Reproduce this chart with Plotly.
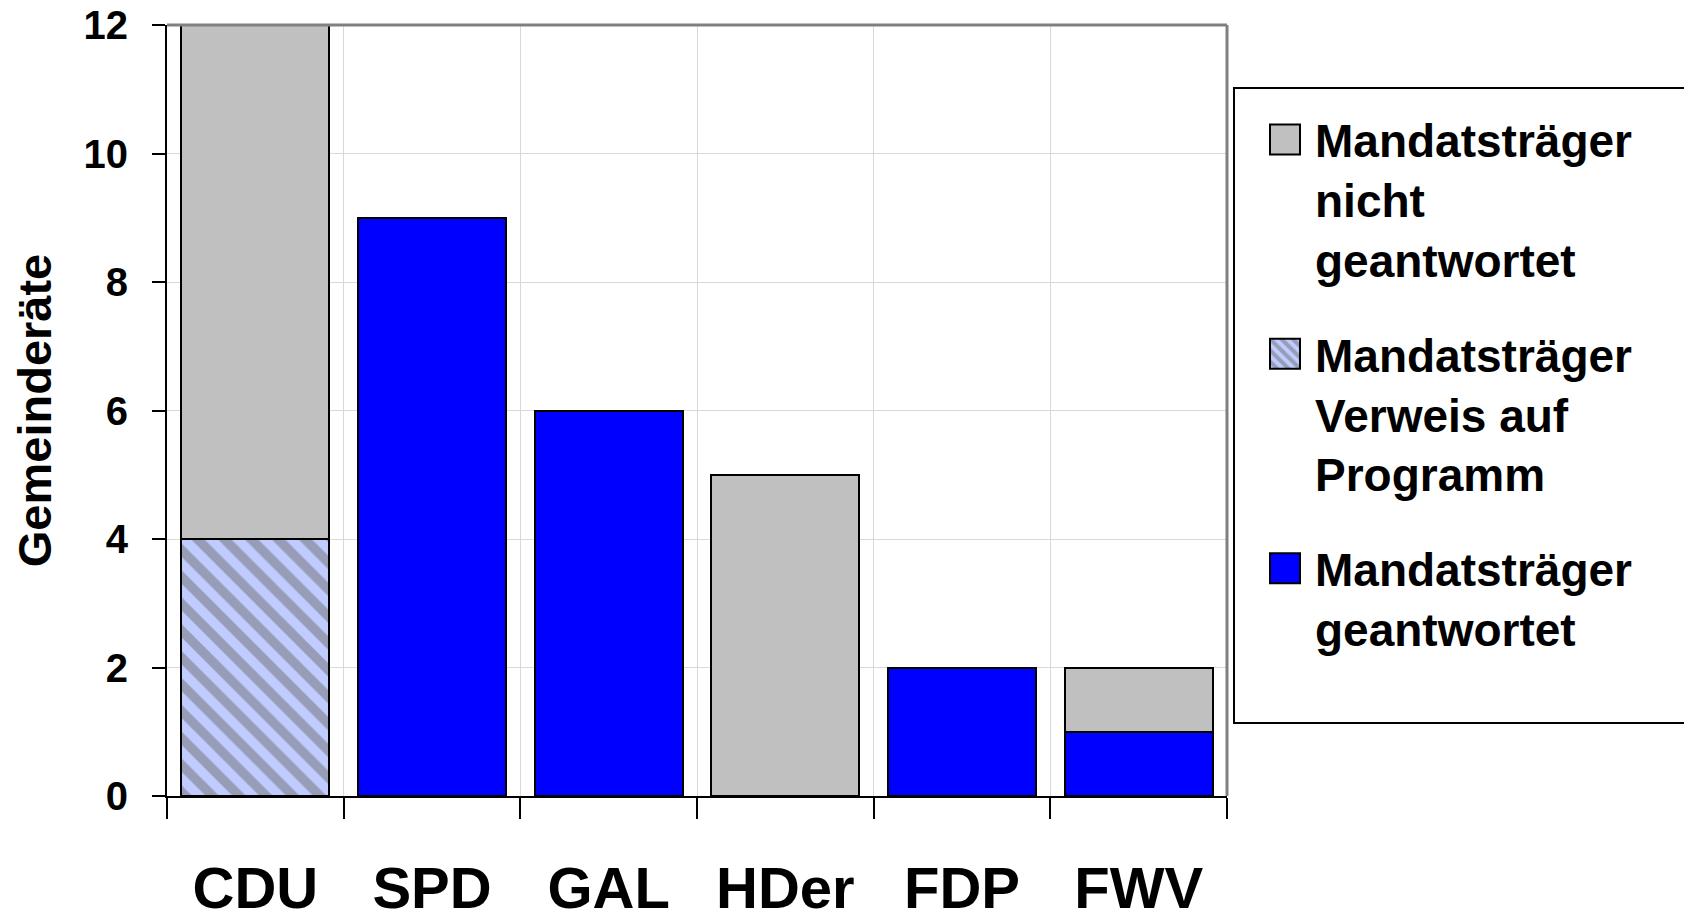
import plotly.graph_objects as go

categories = ["CDU", "SPD", "GAL", "HDer", "FDP", "FWV"]
geantwortet = [None, 9, 6, None, 2, 1]
verweis = [4, None, None, None, None, None]
nicht_geantwortet = [8, None, None, 5, None, 1]
y_ticks = [0, 2, 4, 6, 8, 10, 12]

name_nicht = "Mandatsträger<br>nicht<br>geantwortet"
name_verweis = "Mandatsträger<br>Verweis auf<br>Programm"
name_geantw = "Mandatsträger<br>geantwortet"

# page body has an 8px margin; reference coordinates below are page pixels
OFF = 8
W, H = 1692 - OFF, 912 - OFF
L, R, T, B = 167, 1227, 25, 796   # plot area in reference pixels

def px(x):
    return (x - L) / (R - L)

def py(y):
    return (B - y) / (B - T)

FONT = "Liberation Sans, Arial, sans-serif"
outline = dict(color="black", width=2)

fig = go.Figure()
fig.add_trace(go.Bar(
    x=categories, y=geantwortet, name=name_geantw, legendgroup="c", legendrank=3,
    marker=dict(color="#0000ff", line=outline),
))
fig.add_trace(go.Bar(
    x=categories, y=verweis, name=name_verweis, legendgroup="b", legendrank=2,
    marker=dict(color="#c0ccff", line=outline,
                pattern=dict(shape="\\", fgcolor="#6e6e6e", bgcolor="#c0ccff",
                             size=19, solidity=0.5, fillmode="overlay")),
))
fig.add_trace(go.Bar(
    x=categories, y=nicht_geantwortet, name=name_nicht, legendgroup="a", legendrank=1,
    marker=dict(color="#c0c0c0", line=outline),
))

fig.update_layout(
    width=W, height=H,
    margin=dict(l=L - OFF, r=W - (R - OFF), t=T - OFF, b=H - (B - OFF), autoexpand=False),
    barmode="stack", bargap=0.163,
    paper_bgcolor="white", plot_bgcolor="white",
    font=dict(family=FONT, color="black", size=40, weight="bold"),
    showlegend=True,
    legend=dict(
        x=px(1255), y=py(103), xanchor="left", yanchor="top",
        traceorder="grouped", tracegroupgap=32, valign="top",
        itemwidth=50, font=dict(size=46, family=FONT, weight="bold"),
        bgcolor="rgba(0,0,0,0)", borderwidth=0,
    ),
    xaxis=dict(
        type="category", tickson="boundaries", ticks="outside", ticklen=21,
        tickwidth=2, tickcolor="black", showline=True, linecolor="black",
        linewidth=2, showgrid=True, gridcolor="#d9d9d9", gridwidth=1,
        tickfont=dict(size=58, family=FONT, weight="bold"),
        ticklabelstandoff=40, automargin=False, ticklabeloverflow="allow",
    ),
    yaxis=dict(
        range=[0, 12], tickvals=y_ticks, ticks="outside", ticklen=13,
        tickwidth=2, tickcolor="black", showline=True, linecolor="black",
        linewidth=2, showgrid=True, gridcolor="#d9d9d9", gridwidth=1,
        zeroline=False, tickfont=dict(size=40, family=FONT, weight="bold"),
        ticklabelstandoff=16, automargin=False, ticklabeloverflow="allow",
        title=dict(text="Gemeinderäte", font=dict(size=47, family=FONT, weight="bold"),
                   standoff=24),
    ),
    shapes=[
        dict(type="line", xref="paper", yref="paper", x0=0, x1=1, y0=1, y1=1,
             line=dict(color="#808080", width=3), layer="above"),
        dict(type="line", xref="paper", yref="paper", x0=1, x1=1, y0=0, y1=1,
             line=dict(color="#808080", width=3), layer="above"),
        dict(type="rect", xref="paper", yref="paper",
             x0=px(1234), x1=px(1688), y0=py(723), y1=py(88),
             line=dict(color="black", width=2), fillcolor="rgba(0,0,0,0)"),
    ],
)

post = """
var gd = document.getElementById('{plot_id}');
function bigSymbols(){
  gd.querySelectorAll('.legendpoints path').forEach(function(p){
    p.setAttribute('d','M15,15H-15V-15H15Z');
    p.style.strokeWidth = '2px';
    p.style.stroke = 'black';
  });
}
bigSymbols();
if (gd.on) { gd.on('plotly_afterplot', bigSymbols); }
setTimeout(bigSymbols, 200);
"""

fig.write_html("out.html", post_script=post)
